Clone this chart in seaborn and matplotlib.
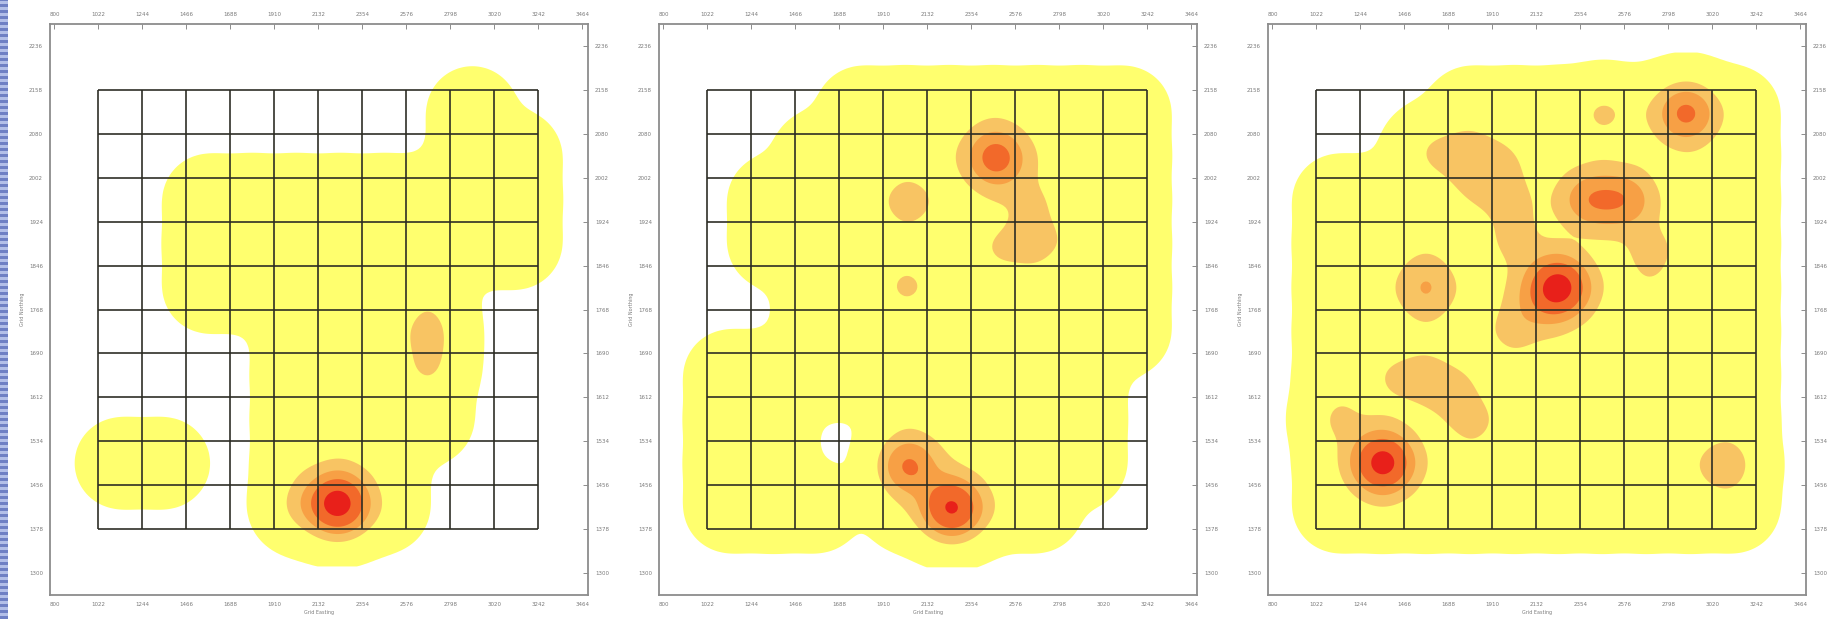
import numpy as np
import matplotlib
matplotlib.use("Agg")
import matplotlib.pyplot as plt
from matplotlib.colors import ListedColormap
from matplotlib.patches import Rectangle
import seaborn as sns
from seaborn._statistics import KDE

# Visited cells of the 10 x 10 survey grid, rows listed from the top ('#' = visited)
visits_a = [
    "........#.",
    "........##",
    "..########",
    "..########",
    "..######..",
    "....####..",
    "....####..",
    "....####..",
    "##..###...",
    "....###...",
]
visits_b = [
    "...#######",
    "..########",
    ".#########",
    ".#########",
    "..########",
    "..########",
    "#########.",
    "##..#####.",
    "##..#####.",
    "###.####..",
]
visits_c = [
    "...#######",
    "..########",
    "##########",
    "##########",
    "##########",
    "##########",
    "##########",
    "##########",
    "##########",
    "##########",
]

# Extra observations (grid units, origin at the lower-left grid corner) and their weights
hot_a_x = [5.45, 4.65, 7.55, 7.55, 7.55, 7.55]
hot_a_y = [0.58, 0.60, 4.85, 4.45, 4.05, 3.65]
hot_a_w = [14.0, 1.3, 0.75, 0.75, 0.75, 0.75]

hot_b_x = [6.56, 6.50, 7.00, 7.50, 7.80, 7.20, 7.35, 7.30, 4.58, 4.55, 4.58, 5.56]
hot_b_y = [8.46, 6.35, 6.30, 6.40, 6.65, 6.85, 7.30, 7.70, 7.45, 5.54, 1.43, 0.48]
hot_b_w = [8.3, 0.6, 0.6, 0.6, 0.6, 0.6, 0.6, 0.6, 1.9, 1.25, 7.0, 12.0]

hot_c_x = [8.40, 6.55,
           2.60, 3.05, 3.50, 3.95, 4.20, 4.35, 4.45, 4.55, 4.60, 3.40, 3.90,
           6.20, 7.00, 7.60, 7.60,
           5.50, 4.90, 4.45,
           2.49, 2.49,
           1.90, 2.50, 3.00, 3.40, 3.60,
           0.53, 1.51, 9.28]
hot_c_y = [9.47, 9.47,
           8.70, 8.65, 8.60, 8.50, 8.05, 7.60, 7.15, 6.70, 6.25, 8.10, 7.90,
           7.50, 7.50, 6.50, 6.00,
           5.50, 5.00, 4.50,
           5.70, 5.30,
           3.40, 3.50, 3.20, 2.70, 2.30,
           2.50, 1.51, 1.45]
hot_c_w = [7.4, 1.35,
           0.8, 0.8, 0.8, 0.8, 0.8, 0.8, 0.8, 0.8, 0.8, 0.8, 0.8,
           5.5, 5.5, 1.0, 1.0,
           14.0, 2.0, 1.3,
           2.0, 2.0,
           1.2, 1.2, 1.2, 1.0, 0.9,
           1.43, 13.5, 2.4]

x_tick_labels = ["800", "1022", "1244", "1466", "1688", "1910", "2132",
                 "2354", "2576", "2798", "3020", "3242", "3464"]
y_tick_labels = ["1300", "1378", "1456", "1534", "1612", "1690", "1768",
                 "1846", "1924", "2002", "2080", "2158", "2236"]

# Density bands, expressed relative to one observation per grid cell
band_colors = ["#FFFF6E", "#F8C463", "#F7A045", "#F2692A", "#E8201A"]
band_floors = [0.055, 1.9, 3.8, 6.2, 10.0]

N_CELLS = 10
SIGMA = 0.45          # kernel width in grid cells
GRIDSIZE = 240
CUT = 3
GRID_COLOR = "#2a2a22"
FRAME_COLOR = "#8c8c8c"
LABEL_COLOR = "#7a7a7a"


def round_kernel(kde):
    """Bandwidth rule giving a circular Gaussian kernel of SIGMA grid cells."""
    eye = np.eye(kde.d)
    kde._data_covariance = eye
    kde._data_inv_cov = eye
    kde._data_cho_cov = eye
    return SIGMA


def panel_points(visits, hx, hy, hw):
    xs, ys, ws = [], [], []
    for r, row in enumerate(visits):
        for c, ch in enumerate(row):
            if ch == "#":
                xs.append(c + 0.5)
                ys.append(N_CELLS - r - 0.5)
                ws.append(1.0)
    xs += list(hx)
    ys += list(hy)
    ws += list(hw)
    return np.array(xs), np.array(ys), np.array(ws)


def draw_panel(ax, visits, hx, hy, hw):
    x, y, w = panel_points(visits, hx, hy, hw)
    dens, _ = KDE(bw_method=round_kernel, gridsize=GRIDSIZE, cut=CUT)(x, y, weights=w)
    total = dens.sum()
    for floor, color in zip(band_floors, band_colors):
        t = floor / w.sum()
        if dens.max() <= t:
            continue
        prop = dens[dens < t].sum() / total
        sns.kdeplot(x=x, y=y, weights=w, fill=True, levels=[prop, 1.0],
                    cmap=ListedColormap([color]), bw_method=round_kernel,
                    gridsize=GRIDSIZE, cut=CUT, ax=ax, antialiased=True)

    ticks = np.arange(-1, N_CELLS + 2)
    ax.vlines(np.arange(N_CELLS + 1), 0, N_CELLS, colors=GRID_COLOR,
              lw=1.3, alpha=0.9, zorder=5)
    ax.hlines(np.arange(N_CELLS + 1), 0, N_CELLS, colors=GRID_COLOR,
              lw=1.3, alpha=0.9, zorder=5)

    ax.set_xlim(-1.1, 11.13)
    ax.set_ylim(-1.5, 11.5)
    ax.set_xticks(ticks)
    ax.set_xticklabels(x_tick_labels)
    ax.set_yticks(ticks)
    ax.set_yticklabels(y_tick_labels)
    ax.tick_params(direction="in", length=3.5, width=0.7, colors=FRAME_COLOR,
                   labelcolor=LABEL_COLOR, labelsize=4, pad=5,
                   top=True, right=True, labeltop=True, labelright=True)
    for sp in ax.spines.values():
        sp.set_color(FRAME_COLOR)
        sp.set_linewidth(1.3)
        sp.set_visible(True)
    ax.set_xlabel("Grid Easting", fontsize=3.5, color=LABEL_COLOR, labelpad=2)
    ax.set_ylabel("Grid Northing", fontsize=3.5, color=LABEL_COLOR, labelpad=3)
    ax.grid(False)
    ax.set_facecolor("white")


sns.set_theme(style="white")
plt.rcParams["font.family"] = ["DejaVu Sans"]

W_PX, H_PX = 1829, 619
fig = plt.figure(figsize=(W_PX / 100, H_PX / 100), dpi=100)
fig.patch.set_facecolor("white")

# Striped page margin on the left edge
stripe_px = 3
for i in range(0, H_PX, 2 * stripe_px):
    fig.patches.append(Rectangle((0, i / H_PX), 8 / W_PX, stripe_px / H_PX,
                                 transform=fig.transFigure, facecolor="#6f80c4",
                                 edgecolor="none"))
    fig.patches.append(Rectangle((0, (i + stripe_px) / H_PX), 8 / W_PX,
                                 stripe_px / H_PX, transform=fig.transFigure,
                                 facecolor="#b3bfe8", edgecolor="none"))

panel_left_px = [50, 659, 1268]
panels = [(visits_a, hot_a_x, hot_a_y, hot_a_w),
          (visits_b, hot_b_x, hot_b_y, hot_b_w),
          (visits_c, hot_c_x, hot_c_y, hot_c_w)]
for left, (vis, hx, hy, hw) in zip(panel_left_px, panels):
    ax = fig.add_axes([left / W_PX, 24 / H_PX, 538 / W_PX, 571 / H_PX])
    draw_panel(ax, vis, hx, hy, hw)

fig.savefig("out.png", dpi=100, facecolor="white")
